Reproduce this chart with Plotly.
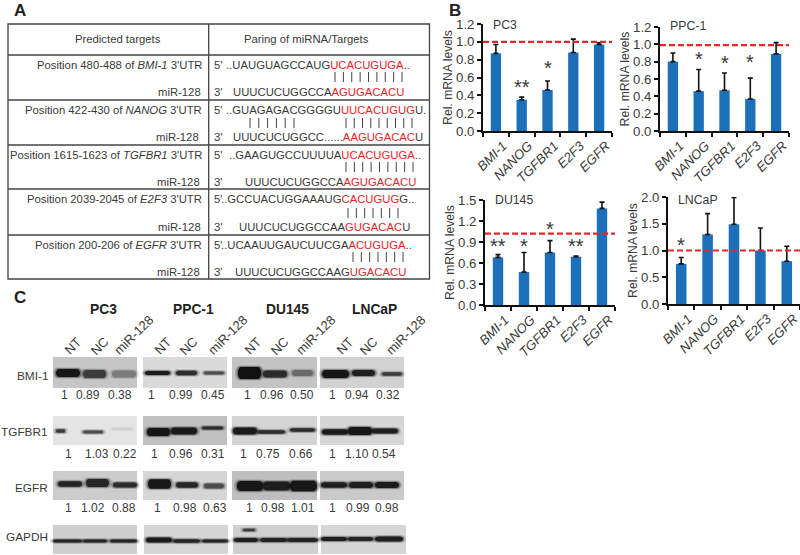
import plotly.graph_objects as go

W, H = 800, 555

genes = ["<i>BMI-1</i>", "<i>NANOG</i>", "<i>TGFBR1</i>", "<i>E2F3</i>", "<i>EGFR</i>"]

pc3_vals = [0.87, 0.35, 0.46, 0.88, 0.97]
pc3_errs = [0.10, 0.03, 0.10, 0.15, 0.02]
ppc1_vals = [0.80, 0.46, 0.47, 0.37, 0.89]
ppc1_errs = [0.10, 0.25, 0.20, 0.24, 0.13]
du145_vals = [0.68, 0.47, 0.75, 0.69, 1.38]
du145_errs = [0.04, 0.28, 0.17, 0.01, 0.09]
lncap_vals = [0.75, 1.30, 1.49, 1.00, 0.80]
lncap_errs = [0.12, 0.39, 0.50, 0.42, 0.28]

# panel A rows: left label, 5' line, 3' line
table_labels = [
    "Position 480-488 of <i>BMI-1</i> 3'UTR",
    "Position 422-430 of <i>NANOG</i> 3'UTR",
    "Position 1615-1623 of <i>TGFBR1</i> 3'UTR",
    "Position 2039-2045 of <i>E2F3</i> 3'UTR",
    "Position 200-206 of <i>EGFR</i> 3'UTR",
]
seq_5p = [
    ("..UAUGUAGCCAUG", "UCACUGUGA", ".."),
    ("..GUAGAGACGGGGU", "UUCACUGUG", "U."),
    ("..GAAGUGCCUUUUA", "UCACUGUGA", ".."),
    ("..GCCUACUGGAAAUG", "CACUGUG", "G.."),
    ("..UCAAUUGAUCUUCGA", "ACUGUGA", ".."),
]
seq_3p = [
    ("UUUCUCUGGCCA", "AGUGACACU", ""),
    ("UUUCUCUGGCC......", "AAGUGACAC", "U"),
    ("UUUCUCUGGCCA", "AGUGACACU", ""),
    ("UUUCUCUGGCCAA", "GUGACAC", "U"),
    ("UUUCUCUGGCCAAG", "UGACACU", ""),
]

# panel C
cell_lines = ["PC3", "PPC-1", "DU145", "LNCaP"]
lanes = ["NT", "NC", "miR-128"]
blot_names = ["BMI-1", "TGFBR1", "EGFR", "GAPDH"]
bmi_ratios = ["1", "0.89", "0.38", "1", "0.99", "0.45", "1", "0.96", "0.50", "1", "0.94", "0.32"]
tgfbr_ratios = ["1", "1.03", "0.22", "1", "0.96", "0.31", "1", "0.75", "0.66", "1", "1.10", "0.54"]
egfr_ratios = ["1", "1.02", "0.88", "1", "0.98", "0.63", "1", "0.98", "1.01", "1", "0.99", "0.98"]

BAR = "#1c6fb9"
RED = "#e8262a"
TXT = "#3a3a3a"
FONT = "Liberation Sans"


def px(x):
    return x / W


def py(y):
    return 1 - y / H


fig = go.Figure()
shapes = []
notes = []


def text(x, y, s, size=11.3, anchor="left", color=TXT, angle=0):
    notes.append(dict(x=px(x), y=py(y), xref="paper", yref="paper", text=s, showarrow=False,
                      xanchor=anchor, yanchor="middle", textangle=angle, borderpad=0,
                      font=dict(family=FONT, size=size, color=color)))


def line(x0, y0, x1, y1, color="#444444", width=1.0):
    shapes.append(dict(type="line", xref="paper", yref="paper", x0=px(x0), y0=py(y0), x1=px(x1), y1=py(y1),
                       line=dict(color=color, width=width)))


def bar_panel(i, vals, errs, ymax, dtick, x0, x1, ytop, ybase, title, title_x, title_y, ref, stars):
    suffix = "" if i == 1 else str(i)
    xa, ya = "x" + suffix, "y" + suffix
    fig.add_trace(go.Bar(x=genes, y=vals, xaxis=xa, yaxis=ya, width=0.4, marker_color=BAR, marker_line_width=0,
                         error_y=dict(type="data", symmetric=False, array=errs, arrayminus=[0] * 5,
                                      color="#111111", thickness=1.6, width=2.5)))
    axis = dict(showgrid=False, zeroline=False, showline=True, linecolor="#111111", linewidth=1.8,
                ticks="outside", tickcolor="#111111", tickwidth=1.5, ticklen=4, automargin=False)
    fig.layout["xaxis" + suffix] = dict(axis, domain=[px(x0), px(x1)], anchor=ya, type="category", tickson="boundaries",
                                        tickangle=-45, ticklabelshift=7,
                                        tickfont=dict(family=FONT, size=13.2, color=TXT))
    fig.layout["yaxis" + suffix] = dict(axis, domain=[py(ybase), py(ytop)], anchor=xa, range=[0, ymax], dtick=dtick,
                                        tickformat=".1f", tickfont=dict(family=FONT, size=13.2, color=TXT),
                                        title=dict(text="Rel. mRNA levels", standoff=1,
                                                   font=dict(family=FONT, size=12.2, color=TXT)))
    shapes.append(dict(type="line", xref=xa + " domain", yref=ya, x0=0, x1=1, y0=ref, y1=ref,
                       line=dict(color=RED, width=2.2, dash="6px,3px")))
    text(title_x, title_y + 1.5, title, size=12.3)
    for gene_idx, mark, yval in stars:
        notes.append(dict(x=genes[gene_idx], y=yval, xref=xa, yref=ya, text=mark, showarrow=False, yanchor="middle",
                          font=dict(family=FONT, size=20, color=TXT)))


bar_panel(1, pc3_vals, pc3_errs, 1.2, 0.2, 483, 612, 24, 131, "PC3", 492, 24, 1.0,
          [(1, "**", 0.49), (2, "*", 0.71)])
bar_panel(2, ppc1_vals, ppc1_errs, 1.2, 0.2, 660, 789, 27, 131, "PPC-1", 669, 25, 0.99,
          [(1, "*", 0.83), (2, "*", 0.79), (3, "*", 0.80)])
bar_panel(3, du145_vals, du145_errs, 1.5, 0.3, 485, 615, 200, 305, "DU145", 494, 199, 1.02,
          [(0, "**", 0.84), (1, "*", 0.84), (2, "*", 1.09), (3, "**", 0.84)])
bar_panel(4, lncap_vals, lncap_errs, 2.0, 0.5, 668, 800, 197, 304, "LNCaP", 677, 198, 1.0,
          [(0, "*", 1.11)])

# panel letters
text(13, 10, "<b>A</b>", size=17, color="#222222")
text(448, 10, "<b>B</b>", size=17, color="#222222")
text(13, 297, "<b>C</b>", size=17, color="#222222")

# panel A table
shapes.append(dict(type="rect", xref="paper", yref="paper", x0=px(8), x1=px(429.5), y0=py(24), y1=py(279),
                   line=dict(color="#444444", width=1.3)))
line(208.7, 24, 208.7, 279, width=1.3)
for yy in [55, 100, 145, 189, 235]:
    line(8, yy, 429.5, yy, width=1.3)
text(74, 39, "Predicted targets", size=11.3)
text(243, 39, "Paring of miRNA/Targets", size=11.3)

row_y5 = [65, 110, 155, 199, 245]
row_y3 = [92, 137, 182, 227, 272]
row_pair = [77, 123, 167, 213, 257]
x5 = [225, 225, 228, 220, 220]
x3 = [232, 232, 244, 238, 234]
mir_right = [202, 200, 201, 202, 201]
# first tick x, last tick x, tick count for each paired stretch
pairs = [[(335, 402, 9)], [(250, 294, 6), (346, 412, 9)], [(346, 413, 9)], [(348, 398, 7)], [(353, 403, 7)]]


def seq(parts):
    return f'{parts[0]}<span style="color:#e8262a">{parts[1]}</span>{parts[2]}'


for r in range(5):
    text(202.5, row_y5[r], table_labels[r], anchor="right")
    text(mir_right[r], row_y3[r], "miR-128", anchor="right")
    text(213, row_y5[r], "5'")
    text(213, row_y3[r], "3'")
    text(x5[r], row_y5[r], seq(seq_5p[r]))
    text(x3[r], row_y3[r], seq(seq_3p[r]))
    for a, b, n in pairs[r]:
        for k in range(n):
            xt = a + (b - a) * k / (n - 1)
            line(xt, row_pair[r] - 5, xt, row_pair[r] + 5, width=1)

# panel C: titles, lane labels, blots
for name, xc in zip(cell_lines, [103, 193, 287, 374]):
    text(xc, 309, f"<b>{name}</b>", size=13.8, anchor="center", color="#222222")
lane_x = [72, 99, 133, 162, 188, 227, 252, 279, 315, 344, 368, 405]
for k, xc in enumerate(lane_x):
    lab = lanes[k % 3]
    text(xc, 335 if lab == "miR-128" else 346, lab, size=13, anchor="center", angle=-45)

for name, yc in zip(blot_names, [376, 432, 488, 537]):
    text(48.5, yc, name, size=11.8, anchor="right")

ratio_x = [
    [64, 88, 120, 151, 181, 213, 247, 272, 302, 332, 357, 388],
    [68, 97, 125, 154, 181, 213, 243, 268, 301, 332, 357, 384],
    [68, 93, 124, 157, 185, 215, 249, 273, 303, 332, 358, 387],
]
for vals, xs, yy in zip([bmi_ratios, tgfbr_ratios, egfr_ratios], ratio_x, [395, 454, 507.7]):
    for v, xc in zip(vals, xs):
        text(xc, yy, v, size=12, anchor="center")

# x0, x1, y0, y1, background grey
panels = [
    (53, 137, 357, 388, "#c6c6c6"), (143, 227, 357, 388, "#dadada"), (232, 317, 357, 388, "#c4c4c4"), (320, 404, 357, 388, "#d2d2d2"),
    (53, 137, 416, 445, "#e4e4e4"), (143, 227, 416, 445, "#c0c0c0"), (232, 317, 416, 445, "#d4d4d4"), (320, 404, 416, 445, "#d6d6d6"),
    (53, 137, 471, 500, "#cccccc"), (143, 227, 471, 500, "#d6d6d6"), (232, 317, 471, 500, "#bebebe"), (320, 404, 471, 500, "#cacaca"),
    (53, 137, 525, 554, "#cfcfcf"), (144, 228, 525, 554, "#d6d6d6"), (233, 318, 525, 554, "#d0d0d0"), (321, 406, 525, 554, "#d6d6d6"),
]
for a, b, c, d, col in panels:
    shapes.append(dict(type="rect", xref="paper", yref="paper", x0=px(a), x1=px(b), y0=py(c), y1=py(d),
                       fillcolor=col, line_width=0))

# x0, x1, y centre, height, darkness
bands = [
    (56, 80, 373, 8, "#0c0c0c"), (83, 106, 374, 8, "#333333"), (112, 136, 374, 7, "#777777"),
    (145, 170, 373, 4, "#111111"), (176, 197, 373, 4.5, "#222222"), (204, 224, 373, 3, "#444444"),
    (238, 261, 373, 12, "#050505"), (263, 287, 374, 7, "#222222"), (292, 313, 373, 6, "#666666"),
    (322, 349, 374, 8, "#0a0a0a"), (352, 375, 373, 6, "#151515"), (382, 402, 374, 3.5, "#333333"),
    (56, 65, 431, 3.5, "#333333"), (83, 103, 432, 3, "#444444"), (112, 133, 429, 2, "#cccccc"),
    (147, 170, 432, 8, "#0a0a0a"), (171, 197, 431, 7, "#111111"), (202, 223, 428, 3, "#222222"),
    (233, 257, 431, 7, "#0f0f0f"), (257, 285, 432, 3.5, "#222222"), (290, 315, 430, 3.5, "#222222"),
    (322, 348, 432, 5.5, "#101010"), (348, 372, 431, 8, "#0c0c0c"), (372, 398, 431, 5, "#151515"),
    (58, 82, 484, 5.5, "#1a1a1a"), (86, 109, 483, 8, "#1c1c1c"), (113, 137, 485, 5, "#222222"),
    (148, 171, 484, 9.5, "#0c0c0c"), (176, 198, 485, 5.5, "#1c1c1c"), (204, 224, 486, 5, "#444444"),
    (237, 263, 486, 10, "#0e0e0e"), (263, 290, 486, 9, "#141414"), (290, 317, 486, 10.5, "#0e0e0e"),
    (321, 347, 485, 5.5, "#151515"), (349, 373, 485, 6, "#151515"), (375, 399, 485, 6, "#111111"),
    (53, 82, 541, 3, "#1a1a1a"), (83, 107, 541, 3, "#1a1a1a"), (110, 137, 541, 3, "#1a1a1a"),
    (146, 172, 540, 5, "#0f0f0f"), (173, 200, 541, 3.5, "#1a1a1a"), (202, 228, 541, 3, "#1a1a1a"),
    (234, 258, 540, 4, "#151515"), (260, 287, 540, 4, "#1a1a1a"), (287, 318, 540, 4, "#1a1a1a"),
    (321, 347, 539, 4, "#151515"), (348, 373, 539, 4, "#1a1a1a"), (375, 403, 539, 5, "#151515"),
    (243, 255, 530, 2.5, "#333333"),
]


def pill(a, b, yc, h):
    # band outline: flat top and bottom, tapered ends
    tail = (b - a) * 0.15
    xl, xr = px(a), px(b)
    xm, xn = px(a + tail), px(b - tail)
    t, m, u = py(yc - h / 2), py(yc), py(yc + h / 2)
    return (f"M {xl},{m} C {xl},{t} {xm},{t} {xm},{t} L {xn},{t} C {xn},{t} {xr},{t} {xr},{m} "
            f"C {xr},{u} {xn},{u} {xn},{u} L {xm},{u} C {xm},{u} {xl},{u} {xl},{m} Z")


for a, b, yc, h, col in bands:
    # halos under a core, to look like a soft film band
    for grow, op in [(3, 0.15), (1.5, 0.35), (0, 0.9)]:
        shapes.append(dict(type="path", xref="paper", yref="paper", path=pill(a - grow, b + grow, yc, h + grow),
                           fillcolor=col, opacity=op, line_width=0))

fig.update_layout(width=W, height=H, margin=dict(l=0, r=0, t=0, b=0), showlegend=False, plot_bgcolor="white",
                  paper_bgcolor="white", shapes=shapes, annotations=notes, font=dict(family=FONT))

fig.write_html("out.html", config={"displayModeBar": False}, post_script="document.body.style.margin='0';")
